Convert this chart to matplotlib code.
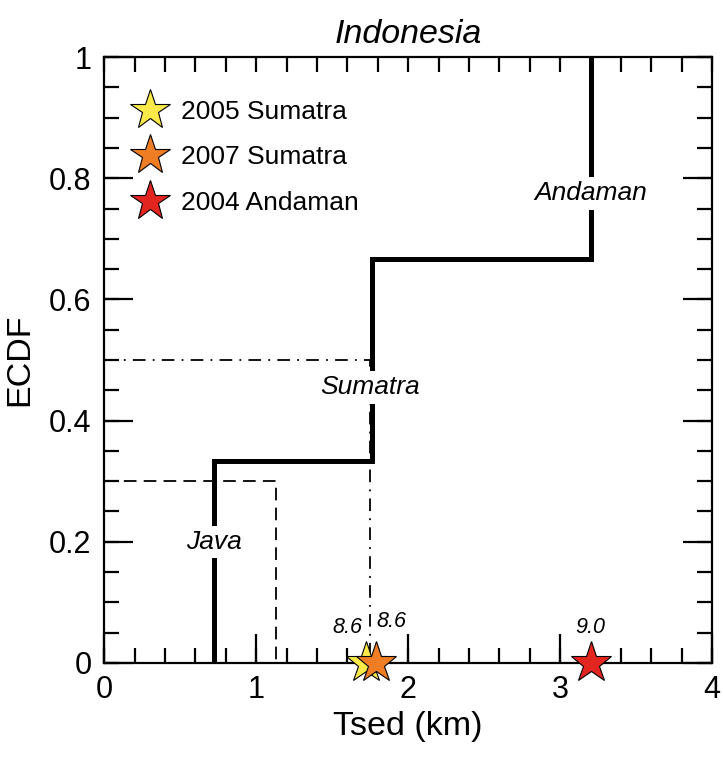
import numpy as np
import matplotlib.pyplot as plt
from matplotlib.ticker import MultipleLocator
from matplotlib.lines import Line2D

plt.rcParams['font.family'] = ['Liberation Sans', 'DejaVu Sans']

# ECDF steps (Tsed in km)
step_x = [0.72, 0.72, 1.76, 1.76, 3.2, 3.2]
step_y = [0.0, 1/3, 1/3, 2/3, 2/3, 1.0]

# reference lines
dash_x = [0.0, 1.13, 1.13]
dash_y = [0.3, 0.3, 0.0]
dashdot_x = [0.0, 1.75, 1.75]
dashdot_y = [0.5, 0.5, 0.0]

# region labels
region_names = ['Java', 'Sumatra', 'Andaman']
region_x = [0.72, 1.75, 3.2]
region_y = [0.2, 0.455, 0.775]

# earthquakes
eq_names = ['2005 Sumatra', '2007 Sumatra', '2004 Andaman']
eq_x = [1.72, 1.79, 3.2]
eq_mag = ['8.6', '8.6', '9.0']
eq_colors = ['#fbe94a', '#ee7d23', '#e3251f']
mag_x = [1.6, 1.89, 3.2]
mag_y = [0.058, 0.068, 0.058]

xticks = [0, 1, 2, 3, 4]
yticks = [0, 0.2, 0.4, 0.6, 0.8, 1.0]
ytick_labels = ['0', '0.2', '0.4', '0.6', '0.8', '1']

fig = plt.figure(figsize=(7.23, 7.62), dpi=100)
ax = fig.add_axes([0.144, 0.130, 0.841, 0.795])

ax.plot(step_x, step_y, color='black', lw=3.6, solid_joinstyle='miter', zorder=2)
ax.plot(dash_x, dash_y, color='black', lw=1.3, dashes=(7, 4), zorder=1)
ax.plot(dashdot_x, dashdot_y, color='black', lw=1.3, dashes=(7, 4, 1, 4), zorder=1)

for name, x, y in zip(region_names, region_x, region_y):
    ax.text(x, y, name, ha='center', va='center', fontsize=19, style='italic',
            bbox=dict(facecolor='white', edgecolor='none', pad=3), zorder=3)

for x, c in zip(eq_x, eq_colors):
    ax.plot(x, 0, marker='*', ms=31, mfc=c, mec='black', mew=0.8, clip_on=False, zorder=5)

for x, y, m in zip(mag_x, mag_y, eq_mag):
    ax.text(x, y, m, ha='center', va='center', fontsize=15.5, style='italic')

handles = [Line2D([], [], ls='none', marker='*', ms=30, mfc=c, mec='black', mew=0.8)
           for c in eq_colors]
ax.legend(handles, eq_names, loc='upper left', bbox_to_anchor=(0.015, 0.96),
          frameon=False, fontsize=19, handletextpad=0.45, labelspacing=0.82,
          handlelength=1.4, borderaxespad=0.3)

ax.set_xlim(0, 4)
ax.set_ylim(0, 1)
ax.set_xticks(xticks, [str(v) for v in xticks])
ax.set_yticks(yticks, ytick_labels)
ax.xaxis.set_minor_locator(MultipleLocator(0.2))
ax.yaxis.set_minor_locator(MultipleLocator(0.05))
ax.xaxis.remove_overlapping_locs = False
ax.yaxis.remove_overlapping_locs = False

ax.tick_params(which='major', direction='in', length=21, width=1.6, labelsize=22,
               top=False, right=True, bottom=True, left=True, pad=9)
ax.tick_params(which='minor', direction='in', length=10.5, width=1.6,
               top=True, right=True, bottom=True, left=True)
for s in ax.spines.values():
    s.set_linewidth(1.6)

ax.set_xlabel('Tsed (km)', fontsize=24.5, labelpad=4)
ax.set_ylabel('ECDF', fontsize=24.5, labelpad=10)
ax.set_title('Indonesia', fontsize=24.5, style='italic', pad=10)

fig.savefig('out.png', dpi=100)
